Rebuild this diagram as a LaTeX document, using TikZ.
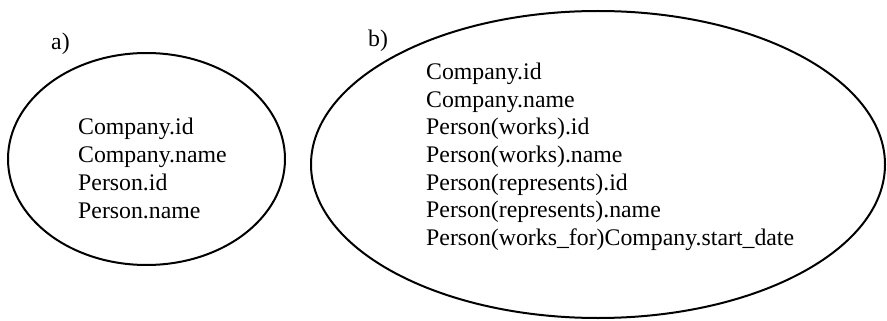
\documentclass[tikz,border=0pt]{standalone}
\usepackage{fontspec}
\setmainfont{Liberation Serif}
\usetikzlibrary{shapes.geometric}

\begin{document}
\begin{tikzpicture}[x=1pt, y=-1pt,
    set/.style={ellipse, draw, line width=2pt, inner sep=0pt},
    attr/.style={anchor=base west, inner sep=0pt, font=\fontsize{23.8}{27.6}\selectfont}]
            \useasboundingbox (0,0) rectangle (887,321);
            % Sets
            \node[set, minimum width=277pt, minimum height=212pt] (setA) at (146.5,159) {};
            \node[set, minimum width=574pt, minimum height=307pt] (setB) at (598,164.5) {};
            % Labels
            \node[attr] (labA) at (51,50) {a)};
            \node[attr] (labB) at (368,46.5) {b)};
            % Attributes
            \foreach \t [count=\i] in {Company.id, Company.name, Person.id, Person.name}
                \node[attr] (a\i) at (78,{135+27.7*(\i-1)}) {\t};
            \foreach \t [count=\i] in {Company.id, Company.name, Person(works).id, Person(works).name,
                    Person(represents).id, Person(represents).name, Person(works\_for)Company.start\_date}
                \node[attr] (b\i) at (426,{80+27.5*(\i-1)}) {\t};
        \end{tikzpicture}
\end{document}
